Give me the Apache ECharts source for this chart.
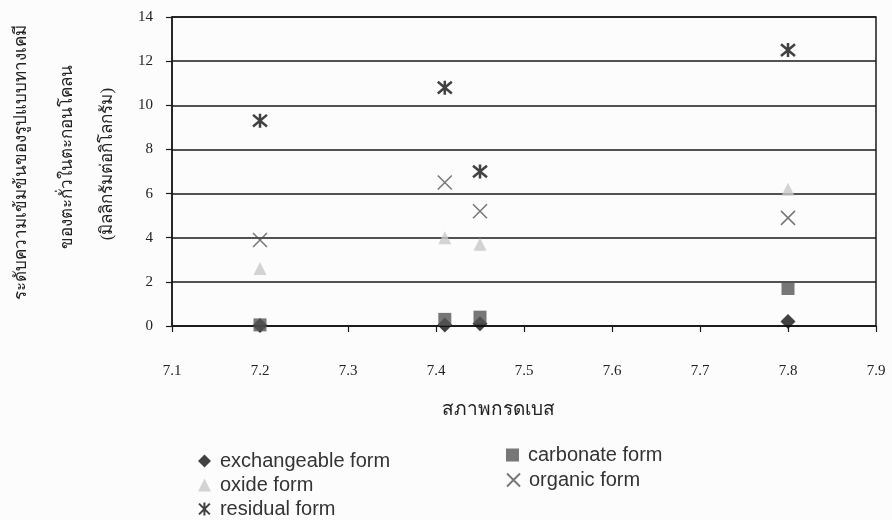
<!DOCTYPE html>
<html>
<head>
<meta charset="utf-8">
<script src="https://cdn.jsdelivr.net/npm/echarts@6/dist/echarts.min.js"></script>
<style>
  html, body { margin: 0; padding: 0; background: #fcfcfc; }
  #chart { width: 892px; height: 520px; }
</style>
</head>
<body>
<div id="chart"></div>
<script>
// Soil pH of each sample site
const pH = [7.2, 7.41, 7.45, 7.8];
// Lead fractions (mg/kg) at each site
const exchangeable = [0.02, 0.05, 0.1, 0.2];
const carbonate = [0.05, 0.3, 0.4, 1.7];
const oxide = [2.6, 4.0, 3.7, 6.2];
const organic = [3.9, 6.5, 5.2, 4.9];
const residual = [9.3, 10.8, 7.0, 12.5];

const seriesNames = ['exchangeable form', 'carbonate form', 'oxide form', 'organic form', 'residual form'];
const xTicks = ['7.1', '7.2', '7.3', '7.4', '7.5', '7.6', '7.7', '7.8', '7.9'];

const yTitleLines = [
  'ระดับความเข้มข้นของรูปแบบทางเคมี',
  'ของตะกั่วในตะกอนโคลน',
  '(มิลลิกรัมต่อกิโลกรัม)'
];
const xTitle = 'สภาพกรดเบส';

const pairs = vals => pH.map((x, i) => [x, vals[i]]);

const crossPath = 'path://M0,0L10,10M10,0L0,10';
const starPath = 'path://M0,0L10,10M10,0L0,10M5,-1L5,11';

const serif = '"Liberation Serif", "DejaVu Serif", serif';
const sans = '"Liberation Sans", Arial, sans-serif';

const chart = echarts.init(document.getElementById('chart'));

// legend slots: two columns, three rows
const legendPos = [
  { left: 193, top: 446 },
  { left: 501, top: 440 },
  { left: 193, top: 470 },
  { left: 501, top: 465 },
  { left: 193, top: 494 }
];

const option = {
  backgroundColor: '#fcfcfc',
  animation: false,
  grid: {
    left: 172, right: 16, top: 17, bottom: 194,
    show: true, borderColor: '#1a1a1a', borderWidth: 1.5, backgroundColor: 'transparent'
  },
  legend: seriesNames.map((name, i) => ({
    data: [name],
    left: legendPos[i].left,
    top: legendPos[i].top,
    itemWidth: 13, itemHeight: 13, itemGap: 8,
    textStyle: { fontFamily: sans, fontSize: 20, color: '#333', padding: [0, 0, 0, 4] }
  })),
  xAxis: {
    type: 'value',
    min: 7.1, max: 7.9, interval: 0.1,
    axisLine: { show: true, onZero: false, lineStyle: { color: '#1a1a1a', width: 1.5 } },
    axisTick: { show: true, length: 6, lineStyle: { color: '#1a1a1a', width: 1.2 } },
    axisLabel: {
      margin: 38, fontFamily: serif, fontSize: 15, color: '#222',
      formatter: v => xTicks[Math.round((v - 7.1) * 10)] || ''
    },
    splitLine: { show: false }
  },
  yAxis: {
    type: 'value',
    min: 0, max: 14, interval: 2,
    axisLine: { show: true, lineStyle: { color: '#1a1a1a', width: 1.5 } },
    axisTick: { show: true, length: 6, lineStyle: { color: '#1a1a1a', width: 1.2 } },
    axisLabel: { margin: 19, fontFamily: serif, fontSize: 15, color: '#222' },
    splitLine: { show: true, lineStyle: { color: '#1a1a1a', width: 1.5 } }
  },
  graphic: yTitleLines.map((t, i) => ({
    type: 'text',
    x: [22, 68, 108][i],
    y: [162, 157, 164][i],
    rotation: Math.PI / 2,
    style: {
      text: t,
      fontFamily: serif,
      fontSize: 17,
      fill: '#222',
      align: 'center',
      verticalAlign: 'middle'
    }
  })).concat([{
    type: 'text',
    x: 498,
    y: 410,
    style: {
      text: xTitle,
      fontFamily: serif,
      fontSize: 19,
      fill: '#222',
      align: 'center',
      verticalAlign: 'middle'
    }
  }]),
  series: [
    {
      name: seriesNames[0], type: 'scatter', data: pairs(exchangeable),
      symbol: 'diamond', symbolSize: 15,
      itemStyle: { color: '#111' }, z: 2
    },
    {
      name: seriesNames[1], type: 'scatter', data: pairs(carbonate),
      symbol: 'rect', symbolSize: 13,
      itemStyle: { color: '#555' }, z: 3
    },
    {
      name: seriesNames[2], type: 'scatter', data: pairs(oxide),
      symbol: 'triangle', symbolSize: 13,
      itemStyle: { color: '#c8c8c8' }, z: 4
    },
    {
      name: seriesNames[3], type: 'scatter', data: pairs(organic),
      symbol: crossPath, symbolSize: 14,
      itemStyle: { color: 'transparent', borderColor: '#555', borderWidth: 1.5 }, z: 5
    },
    {
      name: seriesNames[4], type: 'scatter', data: pairs(residual),
      symbol: starPath, symbolSize: 14,
      itemStyle: { color: 'transparent', borderColor: '#111', borderWidth: 2.5 }, z: 6
    }
  ]
};

chart.setOption(option);
</script>
</body>
</html>
